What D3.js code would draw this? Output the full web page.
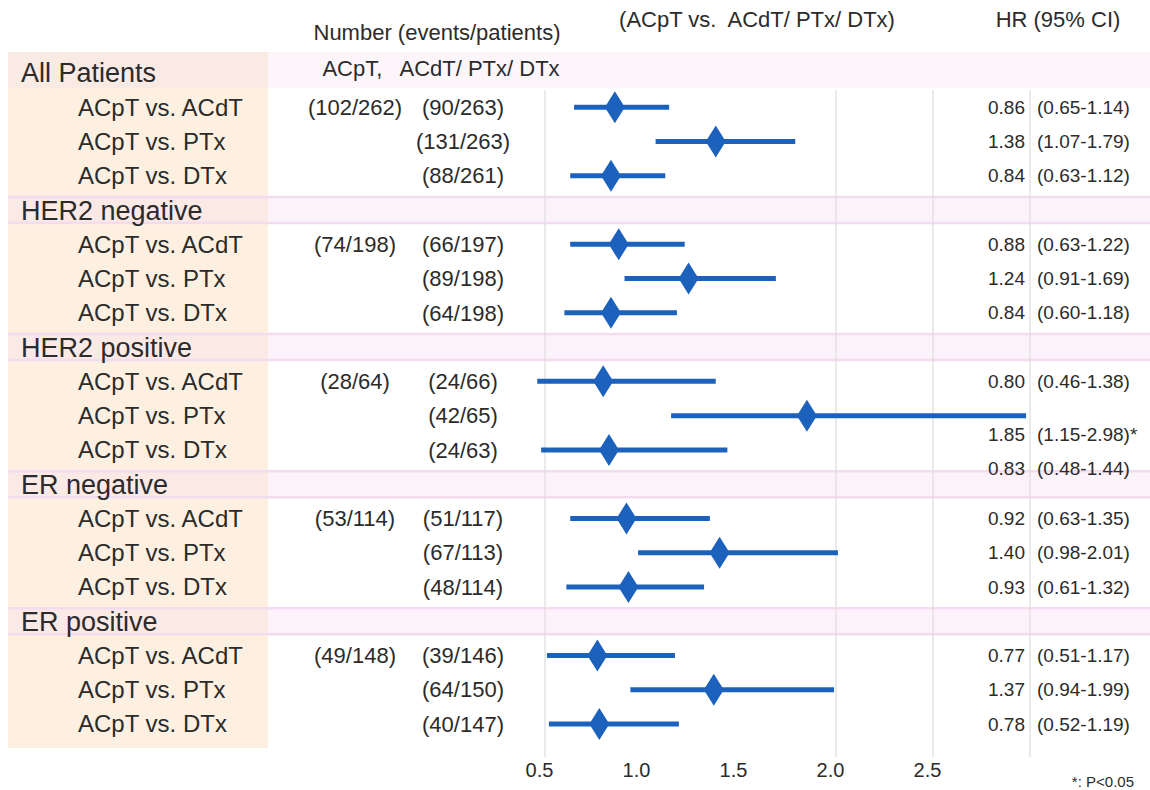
<!DOCTYPE html>
<html>
<head>
<meta charset="utf-8">
<script src="https://cdn.jsdelivr.net/npm/d3@7"></script>
<style>
  body { margin: 0; background: #fff; }
  svg text { font-family: "Liberation Sans", Arial, sans-serif; fill: #2b2b2b; }
</style>
</head>
<body>
<div id="chart"></div>
<script>
// subgroup names and the three comparisons
const groups = ["All Patients", "HER2 negative", "HER2 positive", "ER negative", "ER positive"];
const comparisons = ["ACpT vs. ACdT", "ACpT vs. PTx", "ACpT vs. DTx"];

// events/patients, ACpT arm (one per group) and comparator arms
const acptCounts = ["(102/262)", "(74/198)", "(28/64)", "(53/114)", "(49/148)"];
const compCounts = [
    ["(90/263)", "(131/263)", "(88/261)"],
    ["(66/197)", "(89/198)", "(64/198)"],
    ["(24/66)", "(42/65)", "(24/63)"],
    ["(51/117)", "(67/113)", "(48/114)"],
    ["(39/146)", "(64/150)", "(40/147)"]
];

// hazard ratios and 95% CI
const hr = [
    [0.86, 1.38, 0.84],
    [0.88, 1.24, 0.84],
    [0.80, 1.85, 0.83],
    [0.92, 1.40, 0.93],
    [0.77, 1.37, 0.78]
];
const ciLow = [
    [0.65, 1.07, 0.63],
    [0.63, 0.91, 0.60],
    [0.46, 1.15, 0.48],
    [0.63, 0.98, 0.61],
    [0.51, 0.94, 0.52]
];
const ciHigh = [
    [1.14, 1.79, 1.12],
    [1.22, 1.69, 1.18],
    [1.38, 2.98, 1.44],
    [1.35, 2.01, 1.32],
    [1.17, 1.99, 1.19]
];
const significant = [
    [false, false, false],
    [false, false, false],
    [false, true, false],
    [false, false, false],
    [false, false, false]
];

const xTicks = [0.5, 1.0, 1.5, 2.0, 2.5];
const gridValues = [0.5, 2.0, 2.5, 3.0];

const width = 1150, height = 790;
const blue = "#1c62bd";

const svg = d3.select("#chart").append("svg")
    .attr("width", width)
    .attr("height", height);

// build the row list: a header row for each group then its comparisons
let rows = [];
groups.forEach((g, gi) => {
    rows.push({id: "g" + gi, type: "group", label: g, gi: gi});
    comparisons.forEach((c, ci) => {
        rows.push({
            id: "r" + gi + "_" + ci, type: "item", label: c, gi: gi, ci: ci,
            acpt: ci === 0 ? acptCounts[gi] : "",
            comp: compCounts[gi][ci],
            hr: hr[gi][ci], lo: ciLow[gi][ci], hi: ciHigh[gi][ci],
            sig: significant[gi][ci]
        });
    });
});

let y = d3.scalePoint()
    .domain(rows.map(d => d.id))
    .range([73, 724]);
let step = y.step();

let x = d3.scaleLinear()
    .domain([0.5, 3.0])
    .range([545, 1030]);

// left shaded label column
svg.append("rect")
    .attr("x", 8).attr("y", 52)
    .attr("width", 260).attr("height", 696)
    .style("fill", "#fdf0e0");

// group header bands
let bandG = svg.append("g").attr("id", "bands");
rows.filter(d => d.type === "group").forEach(d => {
    let top = d.gi === 0 ? 52 : y(d.id) - 13;
    let h = d.gi === 0 ? 36 : 26;
    bandG.append("rect")
        .attr("x", 8).attr("y", top)
        .attr("width", width - 8).attr("height", h)
        .style("fill", "#f6ddf0")
        .style("fill-opacity", d.gi === 0 ? 0.3 : 0.38);
    if (d.gi > 0) {
        [top, top + h].forEach(yy => {
            bandG.append("line")
                .attr("x1", 8).attr("x2", width)
                .attr("y1", yy).attr("y2", yy)
                .style("stroke", "#f3dcef")
                .style("stroke-width", 2.5);
        });
    }
});

// vertical grid lines
svg.append("g").attr("id", "grid")
    .selectAll("line").data(gridValues).enter()
    .append("line")
    .attr("x1", d => x(d)).attr("x2", d => x(d))
    .attr("y1", 90).attr("y2", 757)
    .style("stroke", "#dcdcdc")
    .style("stroke-width", 1.2);

// headers
let head = svg.append("g").attr("id", "headers").style("font-size", "22px");
head.append("text").attr("x", 437).attr("y", 40).attr("text-anchor", "middle")
    .text("Number (events/patients)");
head.append("text").attr("x", 441).attr("y", 76).attr("text-anchor", "middle")
    .style("white-space", "pre")
    .text("ACpT,   ACdT/ PTx/ DTx");
head.append("text").attr("x", 757).attr("y", 27).attr("text-anchor", "middle")
    .style("white-space", "pre")
    .text("(ACpT vs.  ACdT/ PTx/ DTx)");
head.append("text").attr("x", 1058).attr("y", 27).attr("text-anchor", "middle")
    .text("HR (95% CI)");

// row labels
let labels = svg.append("g").attr("id", "labels");
labels.selectAll("text").data(rows).enter()
    .append("text")
    .attr("x", d => d.type === "group" ? 21 : 78)
    .attr("y", d => y(d.id))
    .attr("dy", "0.35em")
    .style("font-size", d => d.type === "group" ? "27px" : "24px")
    .text(d => d.label);

let items = rows.filter(d => d.type === "item");

// counts
let counts = svg.append("g").attr("id", "counts").style("font-size", "22px");
counts.selectAll(".acpt").data(items.filter(d => d.acpt)).enter()
    .append("text").attr("class", "acpt")
    .attr("x", 355).attr("y", d => y(d.id)).attr("dy", "0.35em")
    .attr("text-anchor", "middle")
    .text(d => d.acpt);
counts.selectAll(".comp").data(items).enter()
    .append("text").attr("class", "comp")
    .attr("x", 463).attr("y", d => y(d.id)).attr("dy", "0.35em")
    .attr("text-anchor", "middle")
    .text(d => d.comp);

// CI lines and diamonds
let marks = svg.append("g").attr("id", "marks");
marks.selectAll("line").data(items).enter()
    .append("line")
    .attr("x1", d => x(d.lo)).attr("x2", d => x(d.hi))
    .attr("y1", d => y(d.id)).attr("y2", d => y(d.id))
    .style("stroke", blue)
    .style("stroke-width", 5);
marks.selectAll("path").data(items).enter()
    .append("path")
    .attr("d", d => {
        let cx = x(d.hr), cy = y(d.id);
        return `M${cx},${cy - 16}L${cx + 10},${cy}L${cx},${cy + 16}L${cx - 10},${cy}Z`;
    })
    .style("fill", blue);

// HR text; in the HER2 positive group the last two values sit half a row lower
function hrY(d) {
    let shift = (d.gi === 2 && d.ci > 0) ? 0.55 * step : 0;
    return y(d.id) + shift;
}
let hrText = svg.append("g").attr("id", "hrtext").style("font-size", "19px");
hrText.selectAll(".hr").data(items).enter()
    .append("text").attr("class", "hr")
    .attr("x", 1025).attr("y", hrY).attr("dy", "0.35em")
    .attr("text-anchor", "end")
    .text(d => d3.format(".2f")(d.hr));
hrText.selectAll(".ci").data(items).enter()
    .append("text").attr("class", "ci")
    .attr("x", 1037).attr("y", hrY).attr("dy", "0.35em")
    .text(d => "(" + d3.format(".2f")(d.lo) + "-" + d3.format(".2f")(d.hi) + ")" + (d.sig ? "*" : ""));

// x axis labels (no axis line in the original)
let axis = svg.append("g")
    .attr("transform", "translate(0,770)")
    .call(d3.axisBottom(x).tickValues(xTicks).tickFormat(d3.format(".1f")).tickSize(0));
axis.select(".domain").remove();
axis.selectAll("text")
    .attr("dx", "-6px")
    .attr("y", 0).attr("dy", "0.35em")
    .style("font-size", "20px")
    .style("font-family", "'Liberation Sans', Arial, sans-serif")
    .style("fill", "#2b2b2b");

svg.append("text")
    .attr("x", 1134).attr("y", 787)
    .attr("text-anchor", "end")
    .style("font-size", "15px")
    .text("*: P<0.05");
</script>
</body>
</html>
